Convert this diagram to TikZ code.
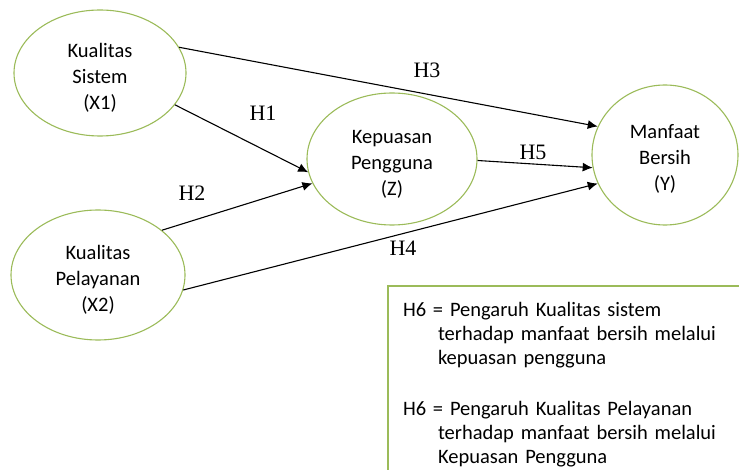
\documentclass[tikz,border=0pt]{standalone}
\usepackage{fontspec}
\setmainfont{Carlito}
\newfontfamily\hfont{Liberation Serif}
\usepackage{tikz}
\usetikzlibrary{arrows.meta,shapes.geometric}
\definecolor{ovalgreen}{RGB}{155,187,89}

\begin{document}
\begin{tikzpicture}[
x=1pt, y=-1pt,
latent/.style={draw=ovalgreen, line width=1.1pt, ellipse, inner sep=0pt},
inside/.style={align=center, yshift=-5pt, font=\fontsize{20.5}{26}\selectfont},
hyp/.style={font=\hfont\fontsize{22}{24}\selectfont, inner sep=0pt},
note/.style={draw=ovalgreen, line width=2pt, align=left, anchor=north west, inner xsep=15pt, inner ysep=16pt, text width=345pt, font=\fontsize{20.5}{24}\selectfont},
arr/.style={-{Latex[length=10pt,width=9pt]}, line width=1.1pt}
]
\useasboundingbox (0,0) rectangle (739,470);
\clip (0,0) rectangle (739,470);

\node[latent, minimum width=172pt, minimum height=126pt, label={[inside]center:Kualitas\\Sistem\\(X1)}] (x1) at (100,73) {};
\node[latent, minimum width=174pt, minimum height=130pt, label={[inside]center:Kualitas\\Pelayanan\\(X2)}] (x2) at (98,275) {};
\node[latent, minimum width=170pt, minimum height=132pt, label={[inside]center:Kepuasan\\Pengguna\\(Z)}] (z) at (392,159) {};
\node[latent, minimum width=146pt, minimum height=140pt, label={[inside, yshift=1pt]center:Manfaat\\Bersih\\(Y)}] (y) at (665,155) {};

\node[note] (notes) at (387,285) {H6 = Pengaruh Kualitas sistem\\
\hspace*{35pt}terhadap manfaat bersih melalui\\
\hspace*{35pt}kepuasan pengguna\\[27pt]
H6 = Pengaruh Kualitas Pelayanan\\
\hspace*{35pt}terhadap manfaat bersih melalui\\
\hspace*{35pt}Kepuasan Pengguna};

\draw[arr] (x1.18) -- (y.157);
\draw[arr] (x1.-23) -- (z.189);
\draw[arr] (x2.35) -- (z.197);
\draw[arr] (x2.-10) -- (y.203);
\draw[arr] (z.-1) -- (y.190);

\node[hyp] (h1) at (263,113) {H1};
\node[hyp] (h2) at (192,193) {H2};
\node[hyp] (h3) at (427,70) {H3};
\node[hyp] (h4) at (403,248) {H4};
\node[hyp] (h5) at (533,152) {H5};
\end{tikzpicture}
\end{document}
